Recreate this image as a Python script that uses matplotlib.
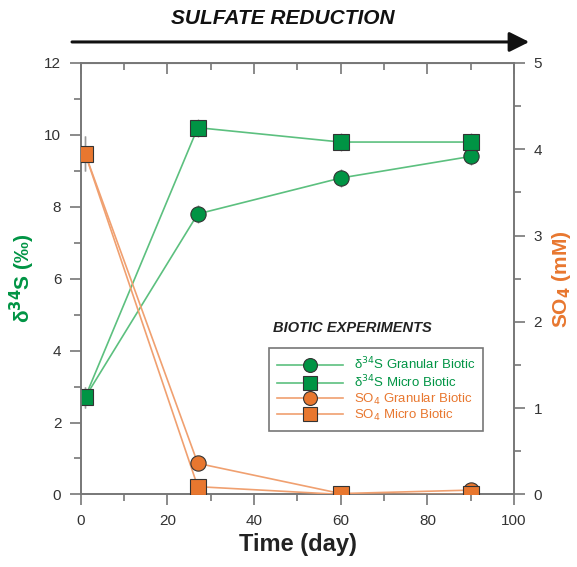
import matplotlib.pyplot as plt
import numpy as np
from matplotlib.ticker import MultipleLocator
from matplotlib.patches import FancyArrowPatch

plt.rcParams['font.family'] = ['Liberation Sans', 'DejaVu Sans']

time = [1, 27, 60, 90]
d34s_granular = [2.7, 7.8, 8.8, 9.4]
d34s_micro = [2.7, 10.2, 9.8, 9.8]
so4_granular = [3.95, 0.36, 0.01, 0.05]
so4_micro = [3.95, 0.09, 0.0, 0.0]
d34s_err = [0.3, 0.25, 0.25, 0.25]
so4_err = [0.2, 0.05, 0.03, 0.03]

green = '#009444'
green_line = '#5cc07f'
orange = '#e8772f'
orange_line = '#f0a070'
grey = '#777777'

fig = plt.figure(figsize=(5.77, 5.67), dpi=100)
ax = fig.add_axes([0.140, 0.128, 0.751, 0.761])
ax2 = ax.twinx()

# d34S on left axis
ax.errorbar(time, d34s_granular, yerr=d34s_err, fmt='none', ecolor='#999999', elinewidth=1, zorder=2)
ax.errorbar(time, d34s_micro, yerr=d34s_err, fmt='none', ecolor='#999999', elinewidth=1, zorder=2)
ax.plot(time, d34s_granular, color=green_line, lw=1.2, zorder=3)
ax.plot(time, d34s_micro, color=green_line, lw=1.2, zorder=3)
ax.plot(time, d34s_granular, 'o', ms=11, mfc=green, mec='#333333', mew=0.8, zorder=4)
ax.plot(time, d34s_micro, 's', ms=11, mfc=green, mec='#333333', mew=0.8, zorder=4)

# SO4 on right axis
ax2.errorbar(time, so4_granular, yerr=so4_err, fmt='none', ecolor='#999999', elinewidth=1, zorder=2)
ax2.errorbar(time, so4_micro, yerr=so4_err, fmt='none', ecolor='#999999', elinewidth=1, zorder=2)
ax2.plot(time, so4_granular, color=orange_line, lw=1.2, zorder=3)
ax2.plot(time, so4_micro, color=orange_line, lw=1.2, zorder=3)
ax2.plot(time, so4_granular, 'o', ms=11, mfc=orange, mec='#333333', mew=0.8, zorder=4)
ax2.plot(time, so4_micro, 's', ms=11, mfc=orange, mec='#333333', mew=0.8, zorder=4)

ax.set_xlim(0, 100)
ax.set_ylim(0, 12)
ax2.set_ylim(0, 5)

ax.xaxis.set_major_locator(MultipleLocator(20))
ax.xaxis.set_minor_locator(MultipleLocator(10))
ax.yaxis.set_major_locator(MultipleLocator(2))
ax.yaxis.set_minor_locator(MultipleLocator(1))
ax2.yaxis.set_major_locator(MultipleLocator(1))
ax2.yaxis.set_minor_locator(MultipleLocator(0.5))

for a in (ax, ax2):
    for s in a.spines.values():
        s.set_color(grey)
        s.set_linewidth(1.2)
ax.tick_params(which='major', direction='out', length=8, width=1.2, color=grey,
               labelsize=11, labelcolor='#333333', pad=6)
ax.tick_params(which='minor', direction='out', length=5, width=1.2, color=grey)
ax2.tick_params(which='major', direction='out', length=8, width=1.2, color=grey,
                labelsize=11, labelcolor='#333333', pad=6)
ax2.tick_params(which='minor', direction='out', length=5, width=1.2, color=grey)

# top axis: inward ticks, no labels
top = ax.secondary_xaxis('top')
top.xaxis.set_major_locator(MultipleLocator(20))
top.xaxis.set_minor_locator(MultipleLocator(10))
top.tick_params(which='major', direction='in', length=8, width=1.2, color=grey, labeltop=False)
top.tick_params(which='minor', direction='in', length=5, width=1.2, color=grey)
top.spines['top'].set_color(grey)

ax.set_xlabel('Time (day)', fontsize=17, fontweight='bold', color='#222222', labelpad=4)
ax.set_ylabel(r'δ$\mathbf{^{34}}$S (‰)', fontsize=15, fontweight='bold', color=green)
ax.yaxis.set_label_coords(-0.135, 0.5)
ax.yaxis.label.set_va('center')
ax2.set_ylabel(r'SO$\mathbf{_4}$ (mM)', fontsize=15, fontweight='bold', color=orange)
ax2.yaxis.set_label_coords(1.11, 0.5)
ax2.yaxis.label.set_va('center')

# legend
handles = [
    plt.Line2D([], [], color=green_line, lw=1.2, marker='o', ms=10, mfc=green, mec='#333333', mew=0.8),
    plt.Line2D([], [], color=green_line, lw=1.2, marker='s', ms=10, mfc=green, mec='#333333', mew=0.8),
    plt.Line2D([], [], color=orange_line, lw=1.2, marker='o', ms=10, mfc=orange, mec='#333333', mew=0.8),
    plt.Line2D([], [], color=orange_line, lw=1.2, marker='s', ms=10, mfc=orange, mec='#333333', mew=0.8),
]
labels = [r'δ$^{34}$S Granular Biotic', r'δ$^{34}$S Micro Biotic',
          r'SO$_4$ Granular Biotic', r'SO$_4$ Micro Biotic']
leg = ax2.legend(handles, labels, loc='upper left', bbox_to_anchor=(0.42, 0.355),
                 fontsize=9.5, handlelength=5, frameon=True, fancybox=False,
                 edgecolor='#555555', labelspacing=0.1, borderpad=0.6)
leg.get_frame().set_linewidth(1.2)
for t, c in zip(leg.get_texts(), [green, green, orange, orange]):
    t.set_color(c)
ax2.text(0.626, 0.385, 'BIOTIC EXPERIMENTS', transform=ax.transAxes, ha='center', va='center',
         fontsize=10.5, fontweight='bold', style='italic', color='#222222')

# sulfate reduction arrow
fig.text(0.49, 0.968, 'SULFATE REDUCTION', ha='center', va='center', fontsize=15,
         fontweight='bold', style='italic', color='#111111')
fig.patches.append(FancyArrowPatch(
    (0.12, 0.926), (0.922, 0.926), transform=fig.transFigure,
    arrowstyle='-|>,head_length=12,head_width=6', lw=2.2, color='#111111'))

plt.savefig('out.png', dpi=100)
